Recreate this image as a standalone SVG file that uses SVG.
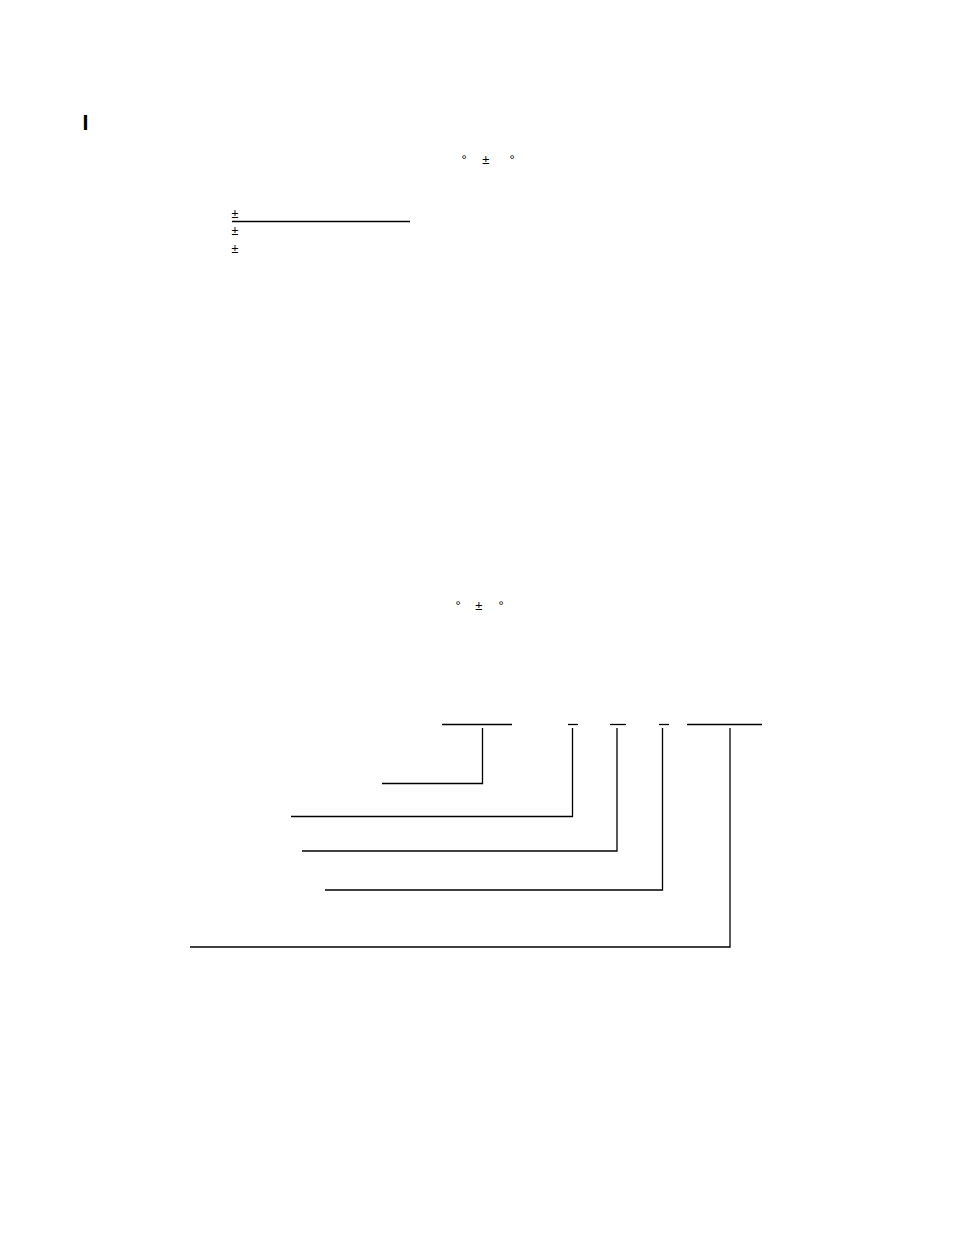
<svg xmlns="http://www.w3.org/2000/svg" width="954" height="1235" viewBox="0 0 954 1235">
<style>
.t{font-family:"Liberation Sans",Arial,sans-serif;font-size:12.5px;fill:#000}
.s{font-family:"Liberation Sans",Arial,sans-serif;font-size:13px;fill:#000}
.ln{stroke:#000;stroke-width:1.3;fill:none}
</style>
<rect width="954" height="1235" fill="#fff"/>
<g id="heading"><text x="82.5" y="130" font-family="Liberation Sans,Arial,sans-serif" font-weight="bold" font-size="21.5">I</text></g>
<g id="row1">
<text class="s" x="461.4" y="164">°</text>
<text class="s" x="482.2" y="164">±</text>
<text class="s" x="509.4" y="164">°</text>
</g>
<g id="list">
<text class="t" x="231.5" y="218">±</text>
<text class="t" x="231.5" y="235">±</text>
<text class="t" x="231.5" y="252.5">±</text>
<line class="ln" x1="232" y1="221.5" x2="410" y2="221.5"/>
</g>
<g id="row2">
<text class="s" x="455.4" y="609.5">°</text>
<text class="s" x="475.2" y="609.5">±</text>
<text class="s" x="498.4" y="609.5">°</text>
</g>
<g id="connectors">
<line class="ln" x1="442" y1="724.5" x2="512" y2="724.5"/>
<line class="ln" x1="568" y1="724.5" x2="578" y2="724.5"/>
<line class="ln" x1="610" y1="724.5" x2="626" y2="724.5"/>
<line class="ln" x1="659" y1="724.5" x2="669" y2="724.5"/>
<line class="ln" x1="687" y1="724.5" x2="762" y2="724.5"/>
<polyline class="ln" points="482.5,728 482.5,783.5 382,783.5"/>
<polyline class="ln" points="572.5,728 572.5,816.5 291,816.5"/>
<polyline class="ln" points="617,728 617,851 302,851"/>
<polyline class="ln" points="662.5,728 662.5,890 325,890"/>
<polyline class="ln" points="730,728 730,947 190,947"/>
</g>
</svg>
